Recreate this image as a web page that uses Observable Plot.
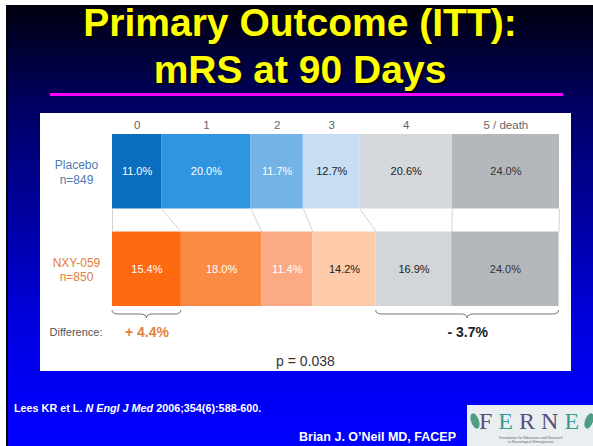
<!DOCTYPE html>
<html>
<head>
<meta charset="utf-8">
<script src="https://cdn.jsdelivr.net/npm/d3@7"></script>
<script src="https://cdn.jsdelivr.net/npm/@observablehq/plot@0.6"></script>
<style>
html, body { margin: 0; padding: 0; width: 593px; height: 446px; overflow: hidden; background: #ffffff; font-family: "Liberation Sans", Arial, sans-serif; }
#slide { position: absolute; left: 6px; top: 5px; width: 587px; height: 441px; border-left: 2px solid #00000c; box-sizing: border-box;
  background: linear-gradient(#00000f 0%, #00005f 22%, #00009a 45%, #0000d6 68%, #0000f2 85%, #0000ff 100%); }
#title { position: absolute; left: 0; top: -1px; width: 600px; text-align: center; color: #ffff00; font-weight: bold; font-size: 39px; line-height: 47px; text-shadow: 2px 2px 0 #000; }
#rule { position: absolute; left: 50px; top: 93px; width: 513px; height: 3px; background: #ff00ff; }
#panel { position: absolute; left: 40px; top: 113px; width: 531px; height: 258px; background: #ffffff; }
#panel svg { display: block; }
#pval { margin-top: 4px; width: 531px; text-align: center; font-size: 14px; line-height: 16px; color: #333; }
#cite { position: absolute; left: 14px; top: 402px; color: #fff; font-weight: bold; font-size: 10.8px; white-space: nowrap; }
#author { position: absolute; left: 299px; top: 430px; color: #fff; font-weight: bold; font-size: 12.5px; white-space: nowrap; }
#logo { position: absolute; left: 467px; top: 405px; width: 126px; height: 41px; background: #e9eff0; overflow: hidden; }
#logo .word { position: absolute; left: 12px; top: 3px; font-family: "Liberation Serif", "DejaVu Serif", serif; font-size: 24px; letter-spacing: 6px; color: #5b4d7c; }
#logo .t { color: #3a9c98; }
#logo .small { position: absolute; left: 22px; width: 84px; text-align: center; font-size: 3.6px; line-height: 4px; color: #666; }
#logo .leaf { position: absolute; width: 8px; height: 16px; border-radius: 50%; background: #4f9e84; }
</style>
</head>
<body>
<div id="slide"></div>
<div id="title">Primary Outcome (ITT):<br>mRS at 90 Days</div>
<div id="rule"></div>
<div id="panel"><div id="chart"></div><div id="pval"></div></div>
<div id="cite">Lees KR et L. <i>N Engl J Med</i> 2006;354(6):588-600.</div>
<div id="author">Brian J. O’Neil MD, FACEP</div>
<div id="logo">
  <div class="leaf" style="left:4px;top:8px;transform:rotate(-20deg)"></div>
  <div class="leaf" style="left:118px;top:8px;transform:rotate(20deg)"></div>
  <div class="word">F<span class="t">E</span>RN<span class="t">E</span></div>
  <div class="small" style="top:31px">Foundation for Education and Research</div>
  <div class="small" style="top:35px">in Neurological Emergencies</div>
</div>
<script>
// ---- data ----
const categories = ["0", "1", "2", "3", "4", "5 / death"];
const groups = ["Placebo", "NXY-059"];
const groupSizes = ["n=849", "n=850"];
const placeboValues = [11.0, 20.0, 11.7, 12.7, 20.6, 24.0];
const nxyValues = [15.4, 18.0, 11.4, 14.2, 16.9, 24.0];
const differenceLabels = ["+ 4.4%", "- 3.7%"];
const differenceRanges = [[0, 0], [4, 5]]; // category index ranges (NXY-059 row)
const differenceTitle = "Difference:";
const pValueText = "p = 0.038";

// ---- styles / layout ----
const placeboColors = ["#0b6dbd", "#2f95df", "#74b3e5", "#c6ddf4", "#d4d7db", "#b4b7bc"];
const nxyColors = ["#fe6a12", "#fb8a45", "#fbab84", "#fdcba9", "#d2d5d9", "#b4b7bc"];
const labelInk = ["#ffffff", "#ffffff", "#ffffff", "#222222", "#222222", "#333333"];
const groupColors = ["#4d7db6", "#e57d35"];
const differenceColors = ["#e2823f", "#222222"];
const barShare = 0.433;

const series = [placeboValues, nxyValues];
const palettes = [placeboColors, nxyColors];
const segments = [];
const bounds = [];
series.forEach((vals, i) => {
  let c = 0;
  const b = [0];
  vals.forEach((v, j) => {
    segments.push({
      row: i, j, cat: categories[j], value: v, x1: c, x2: c + v,
      y1: i === 0 ? 0 : 1 - barShare, y2: i === 0 ? barShare : 1,
      fill: palettes[i][j], ink: labelInk[j]
    });
    c += v;
    b.push(c);
  });
  bounds.push(b);
});
const connectors = bounds[0].map((x, k) => ({x1: x, x2: bounds[1][k]}));
const rowLabels = groups.map((g, i) => ({
  label: g + "\n" + groupSizes[i],
  y: i === 0 ? barShare / 2 : 1 - barShare / 2,
  color: groupColors[i]
}));
const diffs = differenceRanges.map(([a, b], k) => ({
  xa: bounds[1][a], xb: bounds[1][b + 1],
  xm: (bounds[1][a] + bounds[1][b + 1]) / 2,
  text: differenceLabels[k], color: differenceColors[k]
}));

function braces(index, scales) {
  const g = document.createElementNS("http://www.w3.org/2000/svg", "g");
  const y0 = scales.y(1);
  diffs.forEach(d => {
    const xa = scales.x(d.xa), xb = scales.x(d.xb), xm = scales.x(d.xm);
    const yt = y0 + 4, yl = y0 + 8, yp = y0 + 12;
    const p = document.createElementNS("http://www.w3.org/2000/svg", "path");
    p.setAttribute("d",
      `M${xa},${yt} Q${xa},${yl} ${xa + 6},${yl} L${xm - 6},${yl} Q${xm},${yl} ${xm},${yp} ` +
      `Q${xm},${yl} ${xm + 6},${yl} L${xb - 6},${yl} Q${xb},${yl} ${xb},${yt}`);
    p.setAttribute("fill", "none");
    p.setAttribute("stroke", "#666");
    p.setAttribute("stroke-width", "0.9");
    g.appendChild(p);
  });
  return g;
}

const mid = d => (d.x1 + d.x2) / 2;

const chart = Plot.plot({
  width: 531,
  height: 236,
  marginLeft: 72,
  marginRight: 12,
  marginTop: 0,
  marginBottom: 0,
  style: {background: "transparent", fontFamily: "'Liberation Sans', Arial, sans-serif"},
  x: {domain: [0, 100], axis: null},
  y: {domain: [0, 1], range: [21, 193], axis: null},
  color: {type: "identity"},
  marks: [
    Plot.rect(segments, {x1: "x1", x2: "x2", y1: "y1", y2: "y2", fill: "fill"}),
    Plot.link(connectors, {x1: "x1", x2: "x2", y1: () => barShare, y2: () => 1 - barShare, stroke: "#c8c8c8", strokeWidth: 0.8}),
    Plot.text(segments, {x: mid, y: d => (d.y1 + d.y2) / 2, text: d => d.value.toFixed(1) + "%", fill: "ink", fontSize: 11}),
    Plot.text(segments.filter(d => d.row === 0), {x: mid, y: () => 0, dy: -9, text: "cat", fill: "#666", fontSize: 11.5}),
    Plot.text(rowLabels, {x: () => 0, y: "y", dx: -36, text: "label", fill: "color", fontSize: 12, lineHeight: 1.2}),
    braces,
    Plot.text(diffs, {x: "xm", y: () => 1, dy: 26, text: "text", fill: "color", fontWeight: "bold", fontSize: 14}),
    Plot.text([differenceTitle], {x: () => 0, y: () => 1, dx: -10, dy: 26, text: d => d, textAnchor: "end", fill: "#555", fontSize: 11})
  ]
});
document.getElementById("chart").appendChild(chart);
document.getElementById("pval").textContent = pValueText;
</script>
</body>
</html>
